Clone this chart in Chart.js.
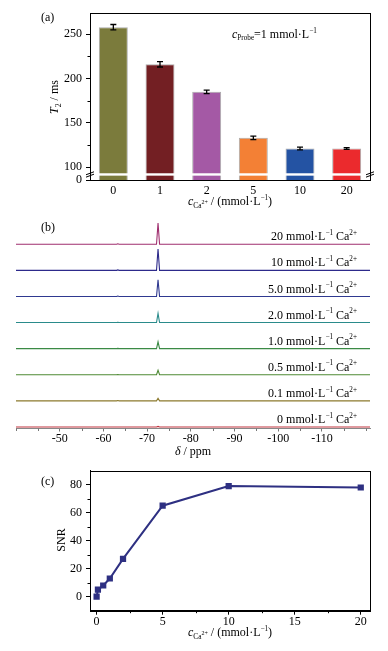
<!DOCTYPE html>
<html>
<head>
<meta charset="utf-8">
<script src="https://cdn.jsdelivr.net/npm/chart.js@4.4.0/dist/chart.umd.min.js"></script>
<style>
  body { margin: 0; background: #fff; }
  #wrap { position: relative; width: 388px; height: 651px; background: #fff; }
  canvas { position: absolute; left: 0; }
</style>
</head>
<body>
<div id="wrap">
  <canvas id="chartA" width="388" height="212" style="top:0"></canvas>
  <canvas id="chartB" width="388" height="253" style="top:205px"></canvas>
  <canvas id="chartC" width="388" height="193" style="top:458px"></canvas>
</div>
<script>
// (a) T2 vs Ca2+ concentration
var caLabels = ['0', '1', '2', '5', '10', '20'];
var t2Values = [258, 216, 185, 133, 121, 121];
var t2Errors = [3, 3, 2, 2, 1.5, 1];
var barColors = ['#7b7b3c', '#731f23', '#a459a5', '#f38035', '#2453a3', '#eb2a2d'];

// (b) 19F spectra, bottom to top
var specLabels = ['0', '0.1', '0.5', '1.0', '2.0', '5.0', '10', '20'];
var specColors = ['#c0353f', '#8c7a2e', '#4f8a35', '#3b8a45', '#2a8b8b', '#2f3990', '#2d2a8b', '#a02f6f'];
var peakHeights = [0.02, 0.10, 0.17, 0.26, 0.35, 0.64, 0.82, 0.81];
var smallPeak = [0.0, 0.01, 0.01, 0.01, 0.01, 0.015, 0.015, 0.015];
var ppmMain = -72.5;
var ppmSmall = -63.3;

// (c) SNR
var snrConc = [0, 0.1, 0.5, 1, 2, 5, 10, 20];
var snrValues = [0, 5, 8, 13, 27, 65, 79, 78];

var FS = 12;
Chart.defaults.font.family = '"Liberation Serif", "Times New Roman", serif';
Chart.defaults.font.size = FS;
Chart.defaults.color = '#000';

var FONT = '"Liberation Serif", "Times New Roman", serif';

// draws text made of pieces (italic, sub/superscript)
function richText(ctx, x, y, parts, align, size) {
  size = size || FS;
  var total = 0;
  parts.forEach(function (p) {
    ctx.font = (p.it ? 'italic ' : '') + (size * (p.s || 1)).toFixed(1) + 'px ' + FONT;
    p.w = ctx.measureText(p.t).width;
    total += p.w;
  });
  var cx = align === 'center' ? x - total / 2 : (align === 'right' ? x - total : x);
  ctx.save();
  ctx.fillStyle = '#000';
  ctx.textBaseline = 'middle';
  ctx.textAlign = 'left';
  parts.forEach(function (p) {
    ctx.font = (p.it ? 'italic ' : '') + (size * (p.s || 1)).toFixed(1) + 'px ' + FONT;
    ctx.fillText(p.t, cx, y + (p.dy || 0) * size);
    cx += p.w;
  });
  ctx.restore();
}

var caTitle = [{t: 'c', it: 1}, {t: 'Ca', s: .62, dy: .3}, {t: '2+', s: .5, dy: .05}, {t: ' / (mmol·L'}, {t: '−1', s: .6, dy: -.35}, {t: ')'}];

// box, minor ticks and free text
var extras = {
  id: 'extras',
  afterDraw: function (chart, args, opts) {
    var ctx = chart.ctx, a = chart.chartArea;
    ctx.save();
    ctx.strokeStyle = '#000';
    ctx.lineWidth = 1;
    if (opts.box) {
      ctx.strokeRect(Math.round(a.left) + 0.5, Math.round(a.top) + 0.5, Math.round(a.right - a.left), Math.round(a.bottom - a.top));
    }
    ctx.strokeStyle = opts.minorColor || '#000';
    (opts.minorY || []).forEach(function (v) {
      var y = Math.round(chart.scales.y.getPixelForValue(v)) + 0.5;
      ctx.beginPath(); ctx.moveTo(a.left, y); ctx.lineTo(a.left - 2.5, y); ctx.stroke();
    });
    (opts.minorX || []).forEach(function (v) {
      var x = Math.round(chart.scales.x.getPixelForValue(v)) + 0.5;
      ctx.beginPath(); ctx.moveTo(x, a.bottom); ctx.lineTo(x, a.bottom + 2.5); ctx.stroke();
    });
    ctx.restore();
    (opts.texts || []).forEach(function (t) {
      if (t.rot) {
        ctx.save();
        ctx.translate(t.x, t.y);
        ctx.rotate(-Math.PI / 2);
        richText(ctx, 0, 0, t.parts, t.align);
        ctx.restore();
      } else {
        richText(ctx, t.x, t.y, t.parts, t.align);
      }
    });
  }
};

// error bars and axis break for (a)
var barExtras = {
  id: 'barExtras',
  afterDatasetsDraw: function (chart) {
    var ctx = chart.ctx, a = chart.chartArea, ys = chart.scales.y;
    var meta = chart.getDatasetMeta(0);
    ctx.save();
    ctx.strokeStyle = '#000';
    ctx.lineWidth = 1.3;
    meta.data.forEach(function (bar, i) {
      var yHi = ys.getPixelForValue(t2Values[i] + t2Errors[i]);
      var yLo = ys.getPixelForValue(t2Values[i] - t2Errors[i]);
      ctx.beginPath();
      ctx.moveTo(bar.x, yHi); ctx.lineTo(bar.x, yLo);
      ctx.moveTo(bar.x - 3, yHi); ctx.lineTo(bar.x + 3, yHi);
      ctx.moveTo(bar.x - 3, yLo); ctx.lineTo(bar.x + 3, yLo);
      ctx.stroke();
    });
    // break band
    var b1 = ys.getPixelForValue(93), b2 = ys.getPixelForValue(90.3);
    ctx.fillStyle = '#fff';
    ctx.fillRect(a.left + 1, b1, a.right - a.left - 2, b2 - b1);
    ctx.strokeStyle = '#000';
    ctx.lineWidth = 1;
    [a.left, a.right].forEach(function (x) {
      ctx.fillStyle = '#fff';
      ctx.fillRect(x - 1, b1, 2, b2 - b1);
      ctx.beginPath();
      ctx.moveTo(x - 4, b1 + 1.5); ctx.lineTo(x + 4, b1 - 1.5);
      ctx.moveTo(x - 4, b2 + 1.5); ctx.lineTo(x + 4, b2 - 1.5);
      ctx.stroke();
    });
    ctx.restore();
  }
};

// ---------- (a)
new Chart(document.getElementById('chartA'), {
  type: 'bar',
  data: {
    labels: caLabels,
    datasets: [{
      data: t2Values,
      backgroundColor: barColors,
      borderColor: 'rgba(90,90,90,0.5)',
      borderWidth: 1,
      categoryPercentage: 1,
      barPercentage: 0.62
    }]
  },
  options: {
    responsive: false,
    animation: false,
    layout: { padding: { top: 13, right: 18, left: 0, bottom: 0 } },
    plugins: {
      legend: { display: false },
      tooltip: { enabled: false },
      extras: {
        box: true,
        minorY: [125, 175, 225],
        texts: [
          { x: 41, y: 18, parts: [{t: '(a)'}] },
          { x: 232, y: 35, parts: [{t: 'c', it: 1}, {t: 'Probe', s: .6, dy: .3}, {t: '=1 mmol·L'}, {t: '−1', s: .6, dy: -.35}] },
          { x: 230, y: 202, parts: caTitle, align: 'center' },
          { x: 55, y: 97, rot: true, align: 'center', parts: [{t: 'T', it: 1}, {t: '2', s: .65, dy: .3}, {t: ' / ms'}] }
        ]
      }
    },
    scales: {
      x: {
        afterFit: function (s) { s.height = 32; },
        grid: { display: false, drawTicks: false },
        border: { color: '#000' },
        ticks: { padding: 4 }
      },
      y: {
        min: 85.4,
        max: 274,
        afterFit: function (s) { s.width = 90; },
        afterBuildTicks: function (s) {
          s.ticks = [85.4, 100, 150, 200, 250].map(function (v) { return { value: v }; });
        },
        ticks: {
          padding: 4,
          callback: function (v) { return v < 90 ? '0' : v; }
        },
        grid: { drawOnChartArea: false, tickLength: 4, color: '#000' },
        border: { color: '#000' }
      }
    }
  },
  plugins: [barExtras, extras]
});

// ---------- (b)
var specSets = specLabels.map(function (lab, i) {
  var off = i;
  return {
    data: [
      { x: -40, y: off },
      { x: ppmSmall + 0.3, y: off },
      { x: ppmSmall, y: off + smallPeak[i] },
      { x: ppmSmall - 0.3, y: off },
      { x: ppmMain + 0.35, y: off },
      { x: ppmMain, y: off + peakHeights[i] },
      { x: ppmMain - 0.35, y: off },
      { x: -121, y: off }
    ],
    borderColor: specColors[i],
    borderWidth: 1.1,
    pointRadius: 0,
    tension: 0
  };
});

var specLabelPlugin = {
  id: 'specLabelPlugin',
  afterDraw: function (chart) {
    var ctx = chart.ctx, ys = chart.scales.y, a = chart.chartArea;
    specLabels.forEach(function (lab, i) {
      var y = ys.getPixelForValue(i) - 7;
      richText(ctx, a.right - 13, y, [{t: lab + ' mmol·L'}, {t: '−1', s: .6, dy: -.35}, {t: ' Ca'}, {t: '2+', s: .6, dy: -.35}], 'right');
    });
  }
};

new Chart(document.getElementById('chartB'), {
  type: 'line',
  data: { datasets: specSets },
  options: {
    responsive: false,
    animation: false,
    layout: { padding: { top: 10, right: 18, left: 16, bottom: 0 } },
    plugins: {
      legend: { display: false },
      tooltip: { enabled: false },
      extras: {
        minorColor: '#777',
        minorX: [-40, -45, -55, -65, -75, -85, -95, -105, -115, -120],
        texts: [
          { x: 41, y: 23, parts: [{t: '(b)'}] },
          { x: 193, y: 247, align: 'center', parts: [{t: 'δ', it: 1}, {t: ' / ppm'}] }
        ]
      }
    },
    scales: {
      x: {
        type: 'linear',
        reverse: true,
        min: -121,
        max: -40,
        afterFit: function (s) { s.height = 29.5; },
        afterBuildTicks: function (s) {
          s.ticks = [-50, -60, -70, -80, -90, -100, -110].map(function (v) { return { value: v }; });
        },
        ticks: { padding: 0 },
        grid: { drawOnChartArea: false, tickLength: 3, color: '#777' },
        border: { color: '#888' }
      },
      y: {
        display: false,
        min: -0.06,
        max: 8.12
      }
    }
  },
  plugins: [extras, specLabelPlugin]
});

// ---------- (c)
new Chart(document.getElementById('chartC'), {
  type: 'line',
  data: {
    datasets: [{
      data: snrConc.map(function (c, i) { return { x: c, y: snrValues[i] }; }),
      borderColor: '#2e3082',
      backgroundColor: '#2e3082',
      borderWidth: 2,
      pointStyle: 'rect',
      pointRadius: 3,
      tension: 0
    }]
  },
  options: {
    responsive: false,
    animation: false,
    layout: { padding: { top: 12.7, right: 18, left: 0, bottom: 0 } },
    plugins: {
      legend: { display: false },
      tooltip: { enabled: false },
      extras: {
        box: true,
        minorX: [2.5, 7.5, 12.5, 17.5],
        minorY: [10, 30, 50, 70],
        texts: [
          { x: 41, y: 24, parts: [{t: '(c)'}] },
          { x: 230, y: 175, parts: caTitle, align: 'center' },
          { x: 62, y: 82, rot: true, align: 'center', parts: [{t: 'SNR'}] }
        ]
      }
    },
    scales: {
      x: {
        type: 'linear',
        min: -0.5,
        max: 20.7,
        afterFit: function (s) { s.height = 40.3; },
        afterBuildTicks: function (s) {
          s.ticks = [0, 5, 10, 15, 20].map(function (v) { return { value: v }; });
        },
        ticks: { padding: 0 },
        grid: { drawOnChartArea: false, tickLength: 4, color: '#000' },
        border: { color: '#000' }
      },
      y: {
        min: -10,
        max: 90,
        afterFit: function (s) { s.width = 90; },
        afterBuildTicks: function (s) {
          s.ticks = [0, 20, 40, 60, 80].map(function (v) { return { value: v }; });
        },
        ticks: { padding: 4 },
        grid: { drawOnChartArea: false, tickLength: 4, color: '#000' },
        border: { color: '#000' }
      }
    }
  },
  plugins: [extras]
});
</script>
</body>
</html>
